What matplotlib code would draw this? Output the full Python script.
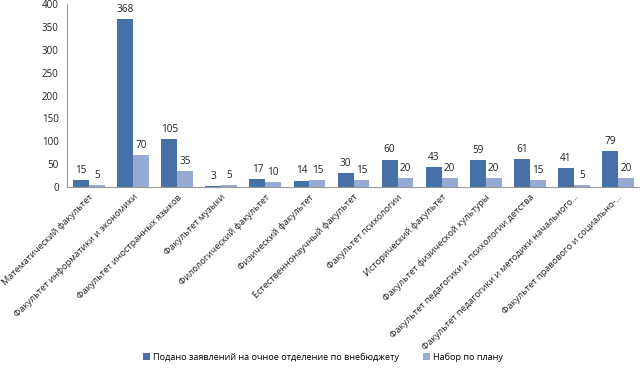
import matplotlib
matplotlib.use("Agg")
import matplotlib.pyplot as plt
import numpy as np

categories = [
    "Математический факультет",
    "Факультет информатики и экономики",
    "Факультет иностранных языков",
    "Факультет музыки",
    "Филологический факультет",
    "Физический факультет",
    "Естественнонаучный факультет",
    "Факультет психологии",
    "Исторический факультет",
    "Факультет физической культуры",
    "Факультет педагогики и психологии детства",
    "Факультет педагогики и методики начального...",
    "Факультет правового и социально-...",
]
applied = [15, 368, 105, 3, 17, 14, 30, 60, 43, 59, 61, 41, 79]
plan = [5, 70, 35, 5, 10, 15, 15, 20, 20, 20, 15, 5, 20]
series_names = ["Подано заявлений на очное отделение по внебюджету", "Набор по плану"]
yticks = [0, 50, 100, 150, 200, 250, 300, 350, 400]

plt.rcParams['font.family'] = ['Open Sans', 'DejaVu Sans']
c1, c2 = "#4670A6", "#97AAD2"

fig = plt.figure(figsize=(6.4, 3.71), dpi=100)
ax = fig.add_axes([67/640, 1-187/371, (640-67)/640, (187-4)/371])

x = np.arange(len(categories))
w = 0.36
b1 = ax.bar(x - w/2, applied, w, color=c1, label=series_names[0])
b2 = ax.bar(x + w/2, plan, w, color=c2, label=series_names[1])
for bars, vals in ((b1, applied), (b2, plan)):
    for r, v in zip(bars, vals):
        ax.text(r.get_x() + r.get_width()/2, v + 9, str(v), ha='center', va='bottom',
                fontsize=7.2, color='#222222')

ax.set_xlim(-0.5, len(categories) - 0.5)
ax.set_ylim(0, 400)
ax.set_yticks(yticks)
ax.tick_params(axis='y', labelsize=7, length=0, pad=6, colors='#222222')
ax.set_xticks(x)
ax.set_xticklabels(categories, rotation=45, ha='right', rotation_mode='anchor', fontsize=6.7, color='#222222')
ax.tick_params(axis='x', length=0, pad=4)
for s in ['top', 'right']:
    ax.spines[s].set_visible(False)
for s in ['left', 'bottom']:
    ax.spines[s].set_color('#999999')
    ax.spines[s].set_linewidth(0.8)

fig.legend(handles=[b1, b2], labels=series_names, loc='center', bbox_to_anchor=(0.505, 1-357/371),
           ncol=2, frameon=False, fontsize=6.6, handlelength=0.7, handleheight=0.7,
           columnspacing=2.6, handletextpad=0.4)

fig.savefig("out.png", dpi=100)
